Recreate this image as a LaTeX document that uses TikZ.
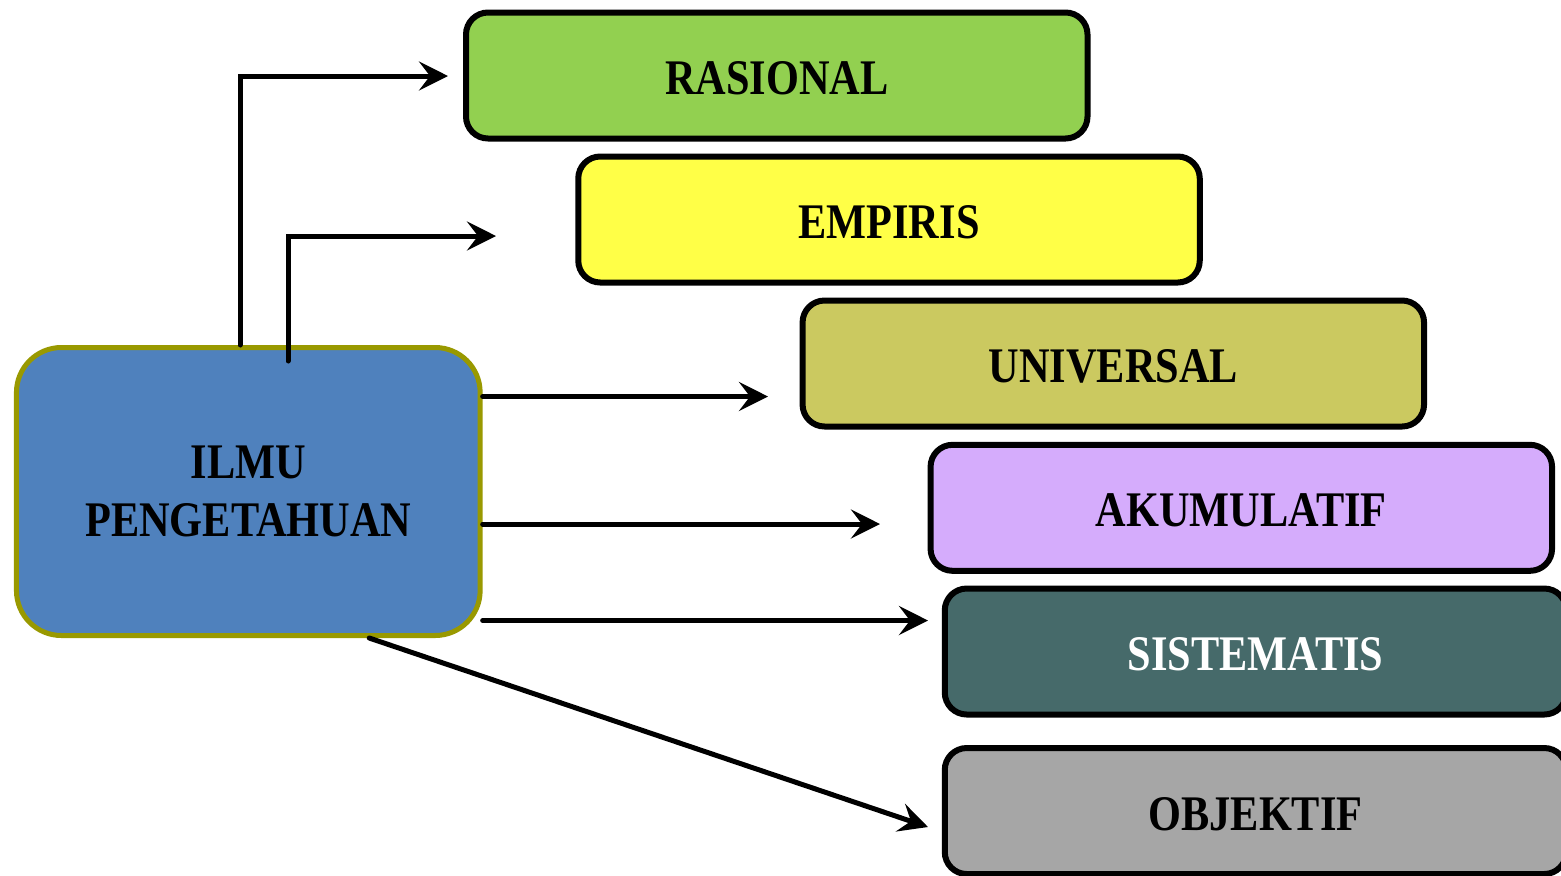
\documentclass[tikz,border=0pt]{standalone}
\usepackage{fontspec}
\newfontfamily\boxfont[FakeStretch=0.85]{Liberation Serif}
\usetikzlibrary{arrows.meta,calc}
\definecolor{cgreen}{HTML}{92D050}
\definecolor{cyellow}{HTML}{FFFF47}
\definecolor{colive}{HTML}{CBC960}
\definecolor{clav}{HTML}{D5ACFC}
\definecolor{cteal}{HTML}{466A6A}
\definecolor{cgray}{HTML}{A6A6A6}
\definecolor{cblue}{HTML}{4F81BD}
\definecolor{cborder}{HTML}{999900}
\tikzset{
  catbox/.style={draw=black, line width=3pt, rounded corners=11pt,
    minimum width=310.75pt, minimum height=63pt, inner sep=0pt,
    text height=19pt, text depth=0pt,
    font=\boxfont\bfseries\fontsize{24.9pt}{28.75pt}\selectfont},
  mainbox/.style={draw=cborder, fill=cblue, line width=2.5pt, rounded corners=22.5pt,
    minimum width=231.85pt, minimum height=144pt, inner sep=0pt,
    align=center,
    font=\boxfont\bfseries\fontsize{24.9pt}{28.75pt}\selectfont},
  arr/.style={line width=2.5pt, line cap=round, line join=miter,
    -{Stealth[length=14.5pt, width=14.5pt, inset=5.5pt]}}
}
\begin{document}
\begin{tikzpicture}[x=0.5pt, y=-0.5pt]
\useasboundingbox (0,0) rectangle (1561,875);
\clip (0,0) rectangle (1561,875);
\fill[white] (0,0) rectangle (1561,875);

\node[catbox, fill=cgreen] (ras) at (776.75,75.5) {RASIONAL};
\node[catbox, fill=cyellow] (emp) at (889,219.5) {EMPIRIS};
\node[catbox, fill=colive] (uni) at (1113.3,363.5) {UNIVERSAL};
\node[catbox, fill=clav] (aku) at (1241.3,507.8) {AKUMULATIF};
\node[catbox, fill=cteal, text=white] (sis) at (1255.5,651.5) {SISTEMATIS};
\node[catbox, fill=cgray] (obj) at (1255.5,811) {OBJEKTIF};

\node[mainbox] (ilmu) at (248.3,491.5) {ILMU\\PENGETAHUAN};

% arrow tips and bends
\coordinate (k1) at (240,76);
\coordinate (t1) at (448,76);
\coordinate (k2) at (288,236);
\coordinate (t2) at (496,236);
\coordinate (t3) at (768,396.5);
\coordinate (t4) at (880,524);
\coordinate (t5) at (928,620.5);
\coordinate (t6) at (928,827);

\draw[arr] (ilmu.north -| k1) -- (k1) -- (t1);
\draw[arr] ($(ilmu.north -| k2)+(0,16)$) -- (k2) -- (t2);
\draw[arr] (ilmu.east |- t3) -- (t3);
\draw[arr] (ilmu.east |- t4) -- (t4);
\draw[arr] (ilmu.east |- t5) -- (t5);
\draw[arr] ($(ilmu.south west)!0.758!(ilmu.south east)$) -- (t6);
\end{tikzpicture}
\end{document}
